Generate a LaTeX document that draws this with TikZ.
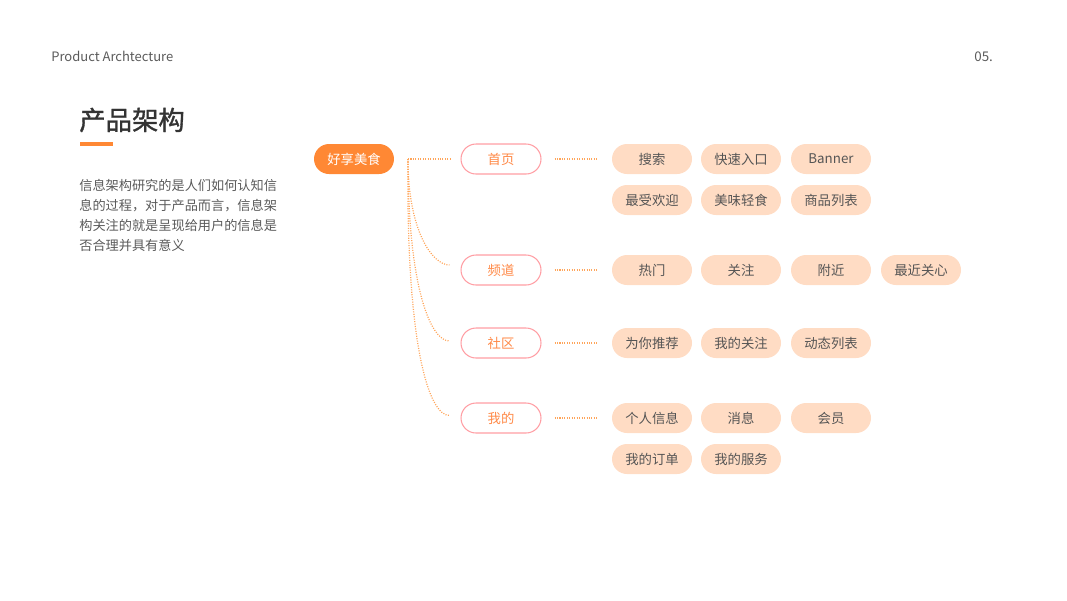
\documentclass[tikz,border=0pt]{standalone}
\usepackage{fontspec}
\setmainfont{Noto Sans CJK SC}
\newfontfamily\titlefont[FakeBold=1.2]{Noto Sans CJK SC}
\definecolor{rootfill}{RGB}{255,136,52}
\definecolor{branchline}{RGB}{255,158,164}
\definecolor{branchtext}{RGB}{255,138,72}
\definecolor{leaffill}{RGB}{255,220,196}
\definecolor{leaftext}{RGB}{85,85,85}
\definecolor{linkcolor}{RGB}{255,165,90}
\definecolor{bodytext}{RGB}{90,90,90}
\definecolor{titletext}{RGB}{51,51,51}

\begin{document}
\begin{tikzpicture}[x=0.02cm,y=-0.02cm,
  root/.style={fill=rootfill, text=white, rounded corners=0.3cm,
    minimum width=1.6cm, minimum height=0.6cm, inner sep=0pt,
    font=\fontsize{7.6}{9}\selectfont},
  branch/.style={draw=branchline, line width=0.6pt, fill=white, text=branchtext,
    rounded corners=0.3cm, minimum width=1.6cm, minimum height=0.6cm,
    inner sep=0pt, font=\fontsize{7.6}{9}\selectfont},
  leaf/.style={fill=leaffill, text=leaftext, rounded corners=0.3cm,
    minimum width=1.6cm, minimum height=0.6cm, inner sep=0pt,
    font=\fontsize{7.6}{9}\selectfont},
  link/.style={draw=linkcolor, line width=0.7pt, dash pattern=on 0.6pt off 0.8pt}]
\useasboundingbox (0,0) rectangle (1067,600);

% header
\node[anchor=west, inner sep=0pt, text=bodytext, font=\fontsize{7.4}{9}\selectfont] (head) at (51,56) {Product Archtecture};
\node[anchor=west, inner sep=0pt, text=bodytext, font=\fontsize{7.6}{9}\selectfont] (page) at (974,57) {05.};

% title and text
\node[anchor=west, inner sep=0pt, text=titletext, font=\titlefont\fontsize{15}{18}\selectfont] (title) at (79,120) {产品架构};
\fill[rootfill] (80,142) rectangle (113,146);
\node[anchor=north west, inner sep=0pt, align=left, text=bodytext,
  font=\fontsize{7.5}{11.35}\selectfont] (intro) at (79,179)
  {信息架构研究的是人们如何认知信\\息的过程，对于产品而言，信息架\\构关注的就是呈现给用户的信息是\\否合理并具有意义};

% tree
\node[root] (food) at (354,159) {好享美食};
\coordinate (hub) at (408,159);

\node[branch] (home) at (501,159) {首页};
\node[branch] (chan) at (501,270) {频道};
\node[branch] (comm) at (501,343) {社区};
\node[branch] (mine) at (501,418) {我的};

\node[leaf] (search) at (652,159) {搜索};
\node[leaf] (quick) at (741,159) {快速入口};
\node[leaf] (banner) at (831,159) {Banner};
\node[leaf] (popular) at (652,200) {最受欢迎};
\node[leaf] (snack) at (741,200) {美味轻食};
\node[leaf] (goods) at (831,200) {商品列表};

\node[leaf] (hot) at (652,270) {热门};
\node[leaf] (follow) at (741,270) {关注};
\node[leaf] (near) at (831,270) {附近};
\node[leaf] (care) at (921,270) {最近关心};

\node[leaf] (recom) at (652,343) {为你推荐};
\node[leaf] (myfollow) at (741,343) {我的关注};
\node[leaf] (feed) at (831,343) {动态列表};

\node[leaf] (profile) at (652,418) {个人信息};
\node[leaf] (msg) at (741,418) {消息};
\node[leaf] (member) at (831,418) {会员};
\node[leaf] (order) at (652,459) {我的订单};
\node[leaf] (service) at (741,459) {我的服务};

% links
\draw[link, shorten >=0.18cm] (hub) -- (home.west);
\draw[link, shorten >=0.22cm] (hub) .. controls +(0,72) and +(-28,0) .. ([yshift=0.1cm]chan.west);
\draw[link, shorten >=0.22cm] (hub) .. controls +(0,128) and +(-30,0) .. ([yshift=0.04cm]comm.west);
\draw[link, shorten >=0.22cm] (hub) .. controls +(-2,185) and +(-32,0) .. ([yshift=0.05cm]mine.west);

\draw[link, shorten <=0.26cm, shorten >=0.3cm] (home.east) -- (search.west);
\draw[link, shorten <=0.26cm, shorten >=0.3cm] (chan.east) -- (hot.west);
\draw[link, shorten <=0.26cm, shorten >=0.3cm] (comm.east) -- (recom.west);
\draw[link, shorten <=0.26cm, shorten >=0.3cm] (mine.east) -- (profile.west);
\end{tikzpicture}
\end{document}
